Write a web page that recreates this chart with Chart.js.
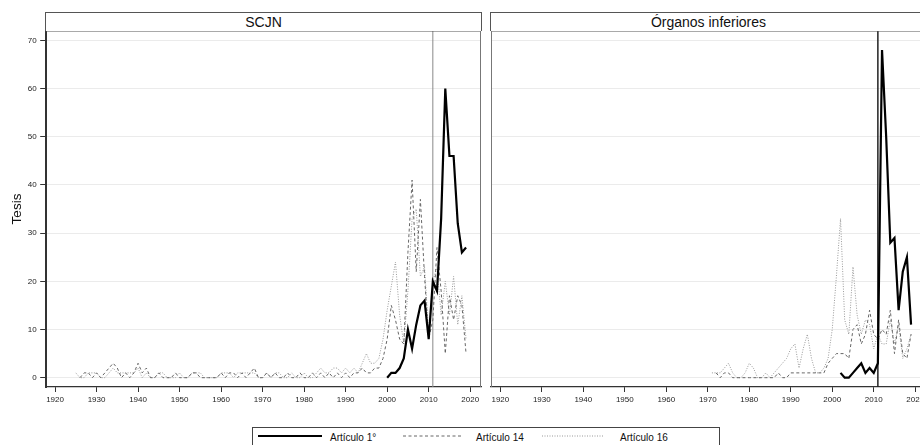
<!DOCTYPE html>
<html><head><meta charset="utf-8">
<script src="https://cdn.jsdelivr.net/npm/chart.js@4/dist/chart.umd.min.js"></script>
<style>
html,body{margin:0;padding:0;width:920px;height:445px;overflow:hidden;background:#fff;font-family:"Liberation Sans",Arial,sans-serif}
#wrap{position:relative;width:920px;height:445px;overflow:hidden}
.strip{position:absolute;top:12px;height:19px;box-sizing:border-box;border:1px solid #555;border-bottom:none;text-align:center;font-size:14px;line-height:18px;color:#111;background:#fff;white-space:nowrap}
.cv{position:absolute;top:0}
#legend{position:absolute;left:252px;top:427px;width:468px;height:30px;box-sizing:border-box;border:1.5px solid #444;background:#fff}
.li{position:absolute;top:4px;font-size:10px;color:#111;line-height:12px;white-space:nowrap}
.ls{position:absolute;top:5px}
</style>
</head><body>
<div id="wrap">
  <canvas id="c1" class="cv" width="486" height="420" style="left:0px"></canvas>
  <canvas id="c2" class="cv" width="445" height="420" style="left:486px"></canvas>
  <div class="strip" style="left:45px;width:437px">SCJN</div>
  <div class="strip" style="left:490px;width:437px">Órganos inferiores</div>
  <div id="legend">
    <svg class="ls" style="left:5px" width="66" height="6"><line x1="0" y1="3" x2="64" y2="3" stroke="#000" stroke-width="2.2"/></svg>
    <div class="li" style="left:77px">Artículo 1°</div>
    <svg class="ls" style="left:150px" width="60" height="6"><line x1="0" y1="3" x2="58" y2="3" stroke="#666" stroke-width="1" stroke-dasharray="3,2.5"/></svg>
    <div class="li" style="left:223px">Artículo 14</div>
    <svg class="ls" style="left:289px" width="64" height="6"><line x1="0" y1="3" x2="62" y2="3" stroke="#999" stroke-width="1" stroke-dasharray="1,1.5"/></svg>
    <div class="li" style="left:367px">Artículo 16</div>
  </div>
</div>
<script>
const _ = null;
const years = [1925,1926,1927,1928,1929,
1930,1931,1932,1933,1934,1935,1936,1937,1938,1939,
1940,1941,1942,1943,1944,1945,1946,1947,1948,1949,
1950,1951,1952,1953,1954,1955,1956,1957,1958,1959,
1960,1961,1962,1963,1964,1965,1966,1967,1968,1969,
1970,1971,1972,1973,1974,1975,1976,1977,1978,1979,
1980,1981,1982,1983,1984,1985,1986,1987,1988,1989,
1990,1991,1992,1993,1994,1995,1996,1997,1998,1999,
2000,2001,2002,2003,2004,2005,2006,2007,2008,2009,
2010,2011,2012,2013,2014,2015,2016,2017,2018,2019];

// SCJN
const scjnArt1 = [_,_,_,_,_,
_,_,_,_,_,_,_,_,_,_,
_,_,_,_,_,_,_,_,_,_,
_,_,_,_,_,_,_,_,_,_,
_,_,_,_,_,_,_,_,_,_,
_,_,_,_,_,_,_,_,_,_,
_,_,_,_,_,_,_,_,_,_,
_,_,_,_,_,_,_,_,_,_,
0,1,1,2,4,10,6,11,15,16,
8,20,18,33,60,46,46,32,26,27];
const scjnArt14 = [_,0,1,1,0,
1,0,1,2,3,2,0,1,0,1,
3,1,2,0,0,1,0,0,0,1,
0,0,0,1,1,0,0,0,0,0,
1,0,1,1,0,1,0,1,2,0,
0,1,0,1,0,0,1,0,0,1,
0,0,1,0,1,0,1,0,1,0,
1,0,1,1,2,1,1,2,2,4,
8,15,12,8,7,26,41,22,37,21,
8,12,27,18,5,17,12,17,15,5];
const scjnArt16 = [1,0,0,1,1,
1,0,0,1,2,1,1,1,1,1,
2,0,1,0,0,1,1,0,0,0,
1,0,0,1,1,1,0,0,0,0,
1,1,1,0,1,1,1,1,1,0,
0,1,0,1,1,0,0,1,0,0,
1,0,0,1,2,1,1,2,2,1,
2,1,2,1,3,5,3,3,4,8,
14,19,24,13,7,18,33,35,21,23,
9,20,23,13,20,13,21,11,17,8];

// Órganos inferiores
const infArt1 = [_,_,_,_,_,
_,_,_,_,_,_,_,_,_,_,
_,_,_,_,_,_,_,_,_,_,
_,_,_,_,_,_,_,_,_,_,
_,_,_,_,_,_,_,_,_,_,
_,_,_,_,_,_,_,_,_,_,
_,_,_,_,_,_,_,_,_,_,
_,_,_,_,_,_,_,_,_,_,
_,_,1,0,0,1,2,3,1,2,
1,3,68,50,28,29,14,22,25,11];
const infArt14 = [_,_,_,_,_,
_,_,_,_,_,_,_,_,_,_,
_,_,_,_,_,_,_,_,_,_,
_,_,_,_,_,_,_,_,_,_,
_,_,_,_,_,_,_,_,_,_,
_,_,1,0,1,1,0,0,0,0,
0,0,0,0,0,0,0,1,0,0,
1,1,1,1,1,1,1,1,1,3,
4,5,5,5,4,10,11,7,9,14,
9,8,10,9,14,5,12,5,4,9];
const infArt16 = [_,_,_,_,_,
_,_,_,_,_,_,_,_,_,_,
_,_,_,_,_,_,_,_,_,_,
_,_,_,_,_,_,_,_,_,_,
_,_,_,_,_,_,_,_,_,_,
_,1,1,1,2,3,1,0,0,1,
3,2,0,0,1,0,1,2,3,4,
6,7,2,6,9,4,1,1,2,4,
10,21,33,12,9,23,13,9,12,11,
6,9,7,7,12,7,11,4,6,9];

const seriesLabels = ['Artículo 1°','Artículo 14','Artículo 16'];
const yTicks = [0,10,20,30,40,50,60,70];
const xTicks = [1920,1930,1940,1950,1960,1970,1980,1990,2000,2010,2020];
const refYear = 2011;

const FONT = '"Liberation Sans", Arial, sans-serif';
const styles = [
  {borderColor:'#000', borderWidth:2.2, borderDash:[], order:0},
  {borderColor:'#666', borderWidth:1, borderDash:[3,2.5], order:1},
  {borderColor:'#999', borderWidth:1, borderDash:[1,1.5], order:2}
];
function pts(vals){ return years.map((y,i)=>({x:y, y:vals[i]})); }

const framePlugin = {
  id:'frame',
  beforeDatasetsDraw(chart, args, o){
    const {ctx, chartArea:a, scales} = chart;
    const x = scales.x.getPixelForValue(refYear);
    ctx.save();
    ctx.strokeStyle = o.vColor; ctx.lineWidth = o.vWidth;
    ctx.beginPath(); ctx.moveTo(x, a.top); ctx.lineTo(x, a.bottom); ctx.stroke();
    ctx.restore();
  },
  afterDraw(chart, args, o){
    const {ctx, chartArea:a} = chart;
    ctx.save();
    ctx.strokeStyle = '#555'; ctx.lineWidth = 1.2;
    ctx.beginPath(); ctx.moveTo(a.left, a.top); ctx.lineTo(a.right, a.top); ctx.stroke();
    ctx.strokeStyle = '#777'; ctx.lineWidth = 1;
    ctx.beginPath(); ctx.moveTo(a.right-0.5, a.top); ctx.lineTo(a.right-0.5, a.bottom); ctx.stroke();
    if (o.leftEdge){ ctx.beginPath(); ctx.moveTo(a.left+0.5, a.top); ctx.lineTo(a.left+0.5, a.bottom); ctx.stroke(); }
    ctx.restore();
  }
};

function makeChart(id, data, withY, vColor, vWidth, padLeft){
  const H = 420, bottom = 387, yw = withY ? 45.7 : padLeft;
  return new Chart(document.getElementById(id), {
    type:'line',
    data:{ datasets: data.map((d,i)=>Object.assign({
      label: seriesLabels[i], data: pts(d), pointRadius:0, tension:0, fill:false, spanGaps:false
    }, styles[i])) },
    options:{
      responsive:false, animation:false, devicePixelRatio:1,
      layout:{padding:{top:31, right:5, left:0, bottom:0}},
      plugins:{legend:{display:false}, tooltip:{enabled:false},
        frame:{vColor, vWidth, leftEdge:!withY}},
      scales:{
        x:{type:'linear', min:1917.75, max:2022.6,
          afterBuildTicks:s=>{s.ticks = xTicks.map(v=>({value:v}));},
          afterFit:s=>{s.height = H - bottom;},
          grid:{drawOnChartArea:false, drawTicks:true, tickLength:5, tickColor:'#333', color:'#333'},
          border:{display:true, color:'#333', width:1.2},
          ticks:{font:{family:FONT, size:8}, color:'#222', padding:3, maxRotation:0, autoSkip:false,
            callback:v=>String(v)}
        },
        y:{type:'linear', min:-1.93, max:71.93,
          afterBuildTicks:s=>{s.ticks = yTicks.map(v=>({value:v}));},
          afterFit:s=>{s.width = yw;},
          grid:{color:'#ebebeb', lineWidth:1, drawTicks:withY, tickLength:5.5, tickColor:'#333'},
          border:{display:withY, color:'#333', width:2},
          ticks:{display:withY, font:{family:FONT, size:8}, color:'#222', padding:3.5},
          title:{display:withY, text:'Tesis', font:{family:FONT, size:13.5}, color:'#111', padding:{top:9.4, bottom:0}}
        }
      }
    },
    plugins:[framePlugin]
  });
}

makeChart('c1', [scjnArt1, scjnArt14, scjnArt16], true, '#888', 1, 0);
makeChart('c2', [infArt1, infArt14, infArt16], false, '#222', 1.5, 5);
</script>
</body></html>
